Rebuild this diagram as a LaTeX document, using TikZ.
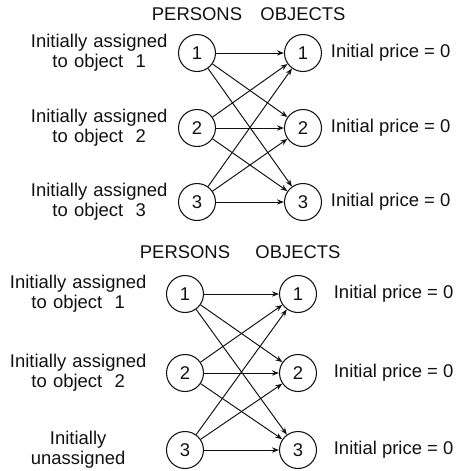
\documentclass[tikz,border=0pt]{standalone}
\usepackage{fontspec}
\setmainfont{Liberation Sans}
\usepackage{xcolor}
\definecolor{ink}{HTML}{111111}
\usepackage{tikz}
\usetikzlibrary{arrows.meta, positioning}
\tikzset{
  >={Stealth[length=4pt, width=3pt]},
  lbl/.style={font=\fontsize{10.5}{11.5}\selectfont, text=ink, inner sep=0pt},
  side/.style={lbl, align=center, text width=2.8cm},
  price/.style={lbl},
  head/.style={lbl},
  pnode/.style={draw=ink, circle, line width=0.6pt, minimum size=7.4mm, inner sep=0pt,
    font=\fontsize{10.5}{11.5}\selectfont, text=ink},
  flow/.style={->, line width=0.55pt, color=ink},
}

\begin{document}
\begin{tikzpicture}[x=0.02cm, y=-0.02cm]
  \useasboundingbox (0,0) rectangle (458,471);

  % upper graph
  \node[pnode] (tp1) at (197,53) {1};
  \node[pnode] (tp2) at (197,128) {2};
  \node[pnode] (tp3) at (197,202) {3};
  \node[pnode] (to1) at (303,53) {1};
  \node[pnode] (to2) at (303,128) {2};
  \node[pnode] (to3) at (303,202) {3};

  \node[head, above=2.6mm of tp1] (th1) {PERSONS};
  \node[head, above=2.6mm of to1] (th2) {OBJECTS};

  \node[side, left=1.7mm of tp1] (ts1) {Initially assigned\\to object~~1};
  \node[side, left=1.7mm of tp2] (ts2) {Initially assigned\\to object~~2};
  \node[side, left=1.7mm of tp3] (ts3) {Initially assigned\\to object~~3};
  \node[price, right=1.7mm of to1] (tc1) {Initial price = 0};
  \node[price, right=1.7mm of to2] (tc2) {Initial price = 0};
  \node[price, right=1.7mm of to3] (tc3) {Initial price = 0};

  \draw[flow] (tp1) edge (to1) edge (to2) edge (to3);
  \draw[flow] (tp2) edge (to1) edge (to2) edge (to3);
  \draw[flow] (tp3) edge (to1) edge (to2) edge (to3);

  % lower graph
  \node[pnode] (bp1) at (185,294) {1};
  \node[pnode] (bp2) at (185,373) {2};
  \node[pnode] (bp3) at (185,450) {3};
  \node[pnode] (bo1) at (298,294) {1};
  \node[pnode] (bo2) at (298,373) {2};
  \node[pnode] (bo3) at (298,450) {3};

  \node[head, above=3.2mm of bp1] (bh1) {PERSONS};
  \node[head, above=3.2mm of bo1] (bh2) {OBJECTS};

  \node[side, left=3.5mm of bp1] (bs1) {Initially assigned\\to object~~1};
  \node[side, left=3.5mm of bp2] (bs2) {Initially assigned\\to object~~2};
  \node[side, left=3.5mm of bp3] (bs3) {Initially\\unassigned};
  \node[price, right=3.3mm of bo1] (bc1) {Initial price = 0};
  \node[price, right=3.3mm of bo2] (bc2) {Initial price = 0};
  \node[price, right=3.3mm of bo3] (bc3) {Initial price = 0};

  \draw[flow] (bp1) edge (bo1) edge (bo2) edge (bo3);
  \draw[flow] (bp2) edge (bo1) edge (bo2) edge (bo3);
  \draw[flow] (bp3) edge (bo1) edge (bo2) edge (bo3);
\end{tikzpicture}
\end{document}
